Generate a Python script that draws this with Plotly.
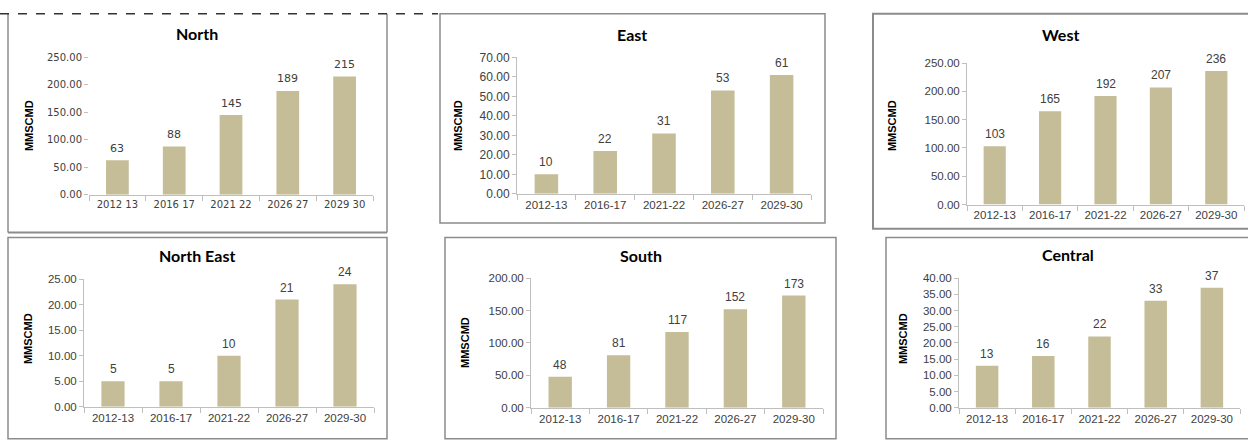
import plotly.graph_objects as go

W, H = 1248, 440

# ---------------- data ----------------
categories = ["2012-13", "2016-17", "2021-22", "2026-27", "2029-30"]
north_tick_labels = ["2012 13", "2016 17", "2021 22", "2026 27", "2029 30"]

north = [63, 88, 145, 189, 215]
east = [10, 22, 31, 53, 61]
west = [103, 165, 192, 207, 236]
north_east = [5, 5, 10, 21, 24]
south = [48, 81, 117, 152, 173]
central = [13, 16, 22, 33, 37]

titles = ["North", "East", "West", "North East", "South", "Central"]
y_title = "MMSCMD"

series = [north, east, west, north_east, south, central]

# ---------------- layout geometry (pixels) ----------------
panels = [
    dict(plot=(89, 373, 52, 194), ymax=250, dtick=50, title=(197, 27), ytit=(29, 123), fam="DejaVu Sans", tfs=10, yfs=10),
    dict(plot=(517, 811, 52, 193), ymax=70, dtick=10, title=(632, 28), ytit=(458, 122), fam="Liberation Sans", tfs=11.5, yfs=12),
    dict(plot=(967, 1244, 58, 204), ymax=250, dtick=50, title=(1060, 28), ytit=(892, 123), fam="Liberation Sans", tfs=11.5, yfs=11.5),
    dict(plot=(84, 374, 281, 413), ymax=25, dtick=5, title=(197, 257), ytit=(28, 343), fam="Liberation Sans", tfs=11.5, yfs=11.5),
    dict(plot=(531, 823, 280, 414), ymax=200, dtick=50, title=(641, 257), ytit=(465, 347), fam="Liberation Sans", tfs=11.5, yfs=11.5),
    dict(plot=(959, 1240, 280, 414), ymax=40, dtick=5, title=(1068, 256), ytit=(903, 343), fam="Liberation Sans", tfs=11.5, yfs=11.5),
]

BAR = "#C4BD97"
AXC = "#BFBFBF"
TXT = "#404040"
BOX = "#8C8C8C"


def px(x):
    return x / W


def py(y):
    return 1 - y / H


fig = go.Figure()
layout = dict(
    width=W, height=H,
    margin=dict(l=0, r=0, t=0, b=0),
    paper_bgcolor="white", plot_bgcolor="white",
    showlegend=False, bargap=0.6,
)
annotations = []

for i, (p, vals, title) in enumerate(zip(panels, series, titles), start=1):
    sx = "" if i == 1 else str(i)
    x0, x1, yt, yb = p["plot"]
    fig.add_trace(go.Bar(
        x=categories, y=vals, xaxis="x" + sx, yaxis="y" + sx,
        marker=dict(color=BAR, line=dict(width=0)),
        hoverinfo="skip",
    ))
    # data labels above bars
    for c, v in zip(categories, vals):
        annotations.append(dict(
            x=c, y=v, xref="x" + sx, yref="y" + sx, showarrow=False,
            text=str(v), yshift=12, xanchor="center", yanchor="middle",
            font=dict(family=p["fam"], size=12 if i != 1 else 11, color=TXT),
        ))
    xa = dict(
        domain=[px(x0), px(x1)], anchor="y" + sx, type="category",
        showline=True, linecolor=AXC, linewidth=1,
        ticks="outside", tickson="boundaries", ticklen=5, tickcolor=AXC,
        tickfont=dict(family=p["fam"], size=p["tfs"], color=TXT),
        showgrid=False, zeroline=False, fixedrange=True,
    )
    if i == 1:
        xa.update(tickvals=categories, ticktext=north_tick_labels)
    ya = dict(
        domain=[py(yb), py(yt)], anchor="x" + sx,
        range=[0, p["ymax"]], dtick=p["dtick"], tick0=0, tickformat=".2f",
        showline=(i != 1), linecolor=AXC, linewidth=1,
        ticks="outside", ticklen=4, tickcolor=AXC,
        tickfont=dict(family=p["fam"], size=p["yfs"], color=TXT),
        showgrid=False, zeroline=False, fixedrange=True,
    )
    layout["xaxis" + sx] = xa
    layout["yaxis" + sx] = ya

    tx, ty = p["title"]
    annotations.append(dict(
        x=px(tx), y=py(ty), xref="paper", yref="paper", showarrow=False,
        text="<b>%s</b>" % title, font=dict(family="Lato", size=16, color="black"),
        xanchor="center", yanchor="middle",
    ))
    ax_, ay_ = p["ytit"]
    annotations.append(dict(
        x=px(ax_), y=py(ay_), xref="paper", yref="paper", showarrow=False,
        text="<b>%s</b>" % y_title, textangle=-90,
        font=dict(family="Liberation Sans", size=11, color="black"),
        xanchor="center", yanchor="middle",
    ))

shapes = []


def line(xa_, ya_, xb, yb_, color=BOX, width=1.5, dash="solid"):
    shapes.append(dict(type="line", xref="paper", yref="paper",
                       x0=px(xa_), y0=py(ya_), x1=px(xb), y1=py(yb_),
                       line=dict(color=color, width=width, dash=dash)))


def rect(xa_, ya_, xb, yb_, width=1.5):
    shapes.append(dict(type="rect", xref="paper", yref="paper",
                       x0=px(xa_), y0=py(ya_), x1=px(xb), y1=py(yb_),
                       line=dict(color=BOX, width=width), fillcolor="rgba(0,0,0,0)"))


# North box (dashed top)
line(8, 7, 8, 233)
line(387, 7, 387, 233)
line(8, 233, 387, 233, width=2)
line(0, 7, 438, 7, color="#333333", width=1.5, dash="dash")
# East
rect(440, 7, 825, 223)
# West
rect(873, 7, 1252, 229, width=2)
# Row 2
rect(8, 238, 387, 446)
rect(445, 238, 836, 446)
rect(886, 238, 1252, 446)

layout["annotations"] = annotations
layout["shapes"] = shapes
fig.update_layout(**layout)
fig.write_html("out.html")
